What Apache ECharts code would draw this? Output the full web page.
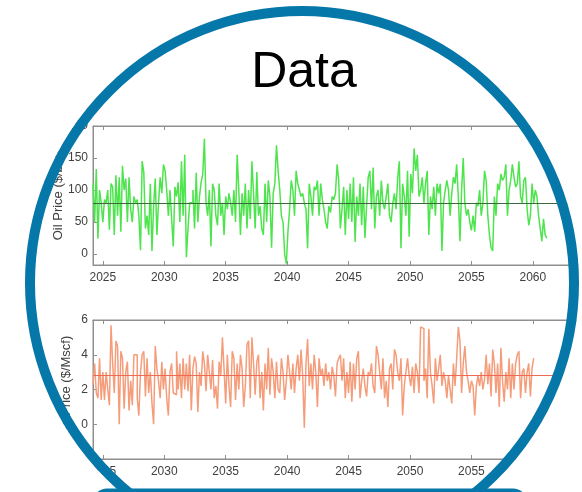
<!DOCTYPE html>
<html>
<head>
<meta charset="utf-8">
<title>Data</title>
<script src="https://cdn.jsdelivr.net/npm/echarts@6/dist/echarts.min.js"></script>
<style>
  html, body { margin: 0; padding: 0; background: #fff; }
  #chart { width: 582px; height: 492px; }
</style>
</head>
<body>
<div id="chart"></div>
<script>
// tick positions
const yearTicks = [2025, 2030, 2035, 2040, 2045, 2050, 2055, 2060];
const oilTicks = [0, 50, 100, 150, 200];
const gasTicks = [0, 2, 4, 6];

// sampling of the price paths (points per year, first point)
const startYear = 2024.2;
const perYear = 7.5;

const oilMean = 80;
const gasMean = 2.8;

// oil price, $/bbl
const oilPrice = [
  110, 50, 133, 24, 100, 80, 50, 85, 80, 100,
  38, 110, 105, 30, 123, 60, 120, 35, 138, 100,
  118, 50, 120, 70, 50, 90, 80, 85, 60, 6,
  145, 128, 40, 60, 30, 110, 5, 75, 118, 30,
  80, 120, 95, 140, 130, 100, 60, 100, 55, 12,
  105, 90, 112, 50, 145, 60, 155, -5, 40, 80,
  80, 100, 40, 127, 50, 90, 112, 125, 180, 80,
  60, 100, 12, 110, 100, 60, 45, 110, 60, 80,
  30, 90, 70, 95, 80, 60, 100, 50, 155, 100,
  30, 95, 60, 110, 40, 100, 55, 145, 95, 40,
  128, 60, 75, 40, 30, 110, 50, 115, 90, 10,
  95, 110, 170, 130, 100, 60, 50, 0, -15, 35,
  70, 115, 100, 60, 130, 110, 100, 90, 95, 80,
  70, 9, 110, 90, 60, 105, 100, 115, 60, 110,
  85, 70, 50, 40, 75, 65, 90, 85, 95, 140,
  115, 40, 70, 105, 30, 100, 55, 110, 50, 120,
  19, 90, 60, 110, 45, 105, 25, 75, 120, 130,
  70, 135, 40, 90, 100, 60, 115, 80, 70, 90,
  110, 60, 50, 80, 95, 70, 120, 145, 9, 110,
  90, 60, 130, 27, 125, 95, 165, 130, 155, 90,
  100, 120, 80, 110, 130, 30, 90, 70, 105, 60,
  110, 95, 110, 5, 80, 100, 115, 100, 60, 95,
  120, 110, 140, 90, 20, 100, 150, 80, 60, 70,
  50, 37, 60, 35, 80, 75, 100, 60, 80, 130,
  115, 60, 30, 10, 5, 90, 60, 110, 100, 125,
  115, 120, 140, 60, 100, 115, 140, 120, 105, 110,
  145, 90, 80, 115, 120, 70, 45, 60, 110, 80,
  100, 90, 60, 40, 20, 55, 30, 25
];

// gas price, $/Mscf
const gasPrice = [
  2.3, 3.5, 1.8, 1.5, 3.8, 1.4, 3.0, 1.4,
  3.0, 2.0, 1.1, 5.7, 3.5, 1.8, 4.8, 4.5,
  0.0, 4.2, 3.8, 0.9, 3.0, 3.6, 0.8, 2.5,
  1.1, 4.0, 4.0, 1.5, 0.5, 3.0, 4.0, 4.2,
  1.6, 3.8, 1.8, 3.0, 1.2, 0.0, 4.5, 3.2,
  2.5, 1.5, 3.6, 2.0, 3.2, 1.5, 0.5, 3.0,
  3.5, 1.8, 1.7, 4.2, 2.0, 3.5, 1.5, 3.8,
  2.0, 3.5, 1.9, 4.0, 0.8, 3.2, 3.9, 3.5,
  0.7, 3.0, 2.2, 4.2, 3.5, 1.9, 4.0, 3.0,
  2.0, 3.7, 1.5, 2.2, 0.9, 3.6, 2.8, 5.0,
  3.2, 1.2, 4.0, 2.2, 1.0, 4.2, 3.8, 1.4,
  3.5, 2.0, 4.0, 3.2, 1.0, 2.2, 4.6, 4.8,
  1.5, 5.0, 3.5, 1.7, 3.6, 4.0, 1.5, 3.0,
  0.8, 3.5, 2.0, 4.4, 1.7, 3.8, 3.0, 1.5,
  3.6, 2.0, 1.8, 3.8, 3.0, 1.4, 2.5, 4.0,
  3.0, 2.0, 3.5, 1.8, 3.2, 4.0, 2.5, 4.3, 2.8, -0.2,
  3.5, 4.9, 2.2, 3.5, 2.0, 4.0, 3.0, 1.0, 3.8, 2.8,
  3.2, 2.2, 3.5, 2.5, 3.0, 2.0, 3.3, 2.8, 1.6, 3.5,
  3.8, 4.0, 2.5, 3.8, 1.5, 3.0, 1.8, 3.6, 1.3, 3.5,
  2.0, 3.8, 4.2, 1.5, 2.5, 3.2, 2.2, 1.6, 3.0, 2.8,
  3.5, 2.2, 1.8, 4.5, 4.0, 3.0, 2.0, 3.8, 1.5, 2.5,
  1.0, 3.2, 3.5, 2.0, 4.3, 4.0, 3.0, 2.5, 3.8, 0.5,
  2.2, 3.0, 3.8, 2.8, 2.2, 3.3, 1.8, 3.5, 3.0, 1.8,
  5.6, 5.5, 2.5, 3.2, 1.5, 5.5, 3.0, 2.2, 1.2, 3.8,
  2.5, 3.2, 4.0, 2.2, 3.0, 2.5, 1.5, 2.8, 2.0, 1.2,
  3.5, 2.2, 3.8, 5.6, 4.8, 1.8, 3.5, 4.5, 3.0, 2.5,
  1.8, 2.5, 2.2, 0.5, 2.2, 2.8, 2.2, 3.0, 2.0, 2.6,
  4.0, 2.3, 3.5, 1.6, 4.3, 3.5, 1.8, 3.5, 1.0, 4.4,
  2.5, 1.3, 3.0, 2.0, 3.8, 1.5, 3.5, 2.0, 3.5, 4.0,
  4.2, 1.5, 3.0, 3.2, 1.8, 3.0, 3.5, 1.6, 3.2, 3.8
];

const toPoints = (vals) => vals.map((v, i) => [startYear + i / perYear, v]);

const font = "'Liberation Sans', Arial, sans-serif";
const boxColor = '#8f8f8f';
const labelColor = '#404040';
const ringBlue = '#0577a8';

const xAxisFor = (gridIndex, position) => ({
  type: 'value',
  gridIndex: gridIndex,
  position: position,
  min: startYear,
  max: 2064,
  axisLine: { show: true, onZero: false, lineStyle: { color: boxColor } },
  axisTick: { show: true, inside: true, length: 4, customValues: yearTicks, lineStyle: { color: boxColor } },
  axisLabel: {
    show: position === 'bottom',
    customValues: yearTicks,
    formatter: (v) => String(v),
    color: labelColor,
    fontFamily: font,
    fontSize: 12,
    margin: 7
  },
  splitLine: { show: false }
});

// the name sits just left of the tick labels, so its gap follows their width
const yAxisFor = (gridIndex, name, min, max, ticks, gap) => ({
  type: 'value',
  gridIndex: gridIndex,
  min: min,
  max: max,
  name: name,
  nameLocation: 'middle',
  nameGap: gap,
  nameMoveOverlap: false,
  nameTextStyle: { color: labelColor, fontFamily: font, fontSize: 13 },
  axisLine: { show: true, onZero: false, lineStyle: { color: boxColor } },
  axisTick: { show: true, inside: true, length: 4, customValues: ticks, lineStyle: { color: boxColor } },
  axisLabel: { customValues: ticks, color: labelColor, fontFamily: font, fontSize: 12, margin: 5 },
  splitLine: { show: false }
});

const meanLine = (value, color) => ({
  symbol: 'none',
  silent: true,
  label: { show: false },
  lineStyle: { color: color, width: 1, type: 'solid' },
  data: [{ yAxis: value }]
});

const chart = echarts.init(document.getElementById('chart'));
chart.setOption({
  animation: false,
  backgroundColor: '#fff',
  grid: [
    { left: 93, top: 126, width: 505, height: 139, show: true, borderColor: boxColor, borderWidth: 1 },
    { left: 93, top: 320, width: 505, height: 139, show: true, borderColor: boxColor, borderWidth: 1 }
  ],
  xAxis: [
    xAxisFor(0, 'bottom'),
    xAxisFor(0, 'top'),
    xAxisFor(1, 'bottom'),
    xAxisFor(1, 'top')
  ],
  yAxis: [
    yAxisFor(0, 'Oil Price ($/bbl)', -17, 200, oilTicks, 28),
    yAxisFor(1, 'Gas Price ($/Mscf)', -2, 6, gasTicks, 20)
  ],
  series: [
    {
      type: 'line',
      xAxisIndex: 0,
      yAxisIndex: 0,
      data: toPoints(oilPrice),
      step: 'end',
      showSymbol: false,
      lineStyle: { color: '#4ee44e', width: 1.5 },
      markLine: meanLine(oilMean, '#3d6a3d')
    },
    {
      type: 'line',
      xAxisIndex: 2,
      yAxisIndex: 1,
      data: toPoints(gasPrice),
      step: 'end',
      showSymbol: false,
      lineStyle: { color: '#f59d7b', width: 1.5 },
      markLine: meanLine(gasMean, '#ee6a55')
    }
  ],
  graphic: [
    // white out everything outside the circle
    {
      type: 'circle',
      z: 100,
      silent: true,
      shape: { cx: 302, cy: 283, r: 877 },
      style: { fill: 'none', stroke: '#fff', lineWidth: 1200 }
    },
    {
      type: 'circle',
      z: 101,
      silent: true,
      shape: { cx: 302, cy: 283, r: 272 },
      style: { fill: 'none', stroke: ringBlue, lineWidth: 10 }
    },
    {
      type: 'rect',
      z: 102,
      silent: true,
      shape: { x: 95, y: 491, width: 430, height: 60, r: 12 },
      style: { fill: '#fff', stroke: ringBlue, lineWidth: 5 }
    },
    {
      type: 'text',
      z: 103,
      silent: true,
      style: {
        text: 'Data',
        x: 304,
        y: 73,
        align: 'center',
        verticalAlign: 'middle',
        fill: '#000',
        font: "50px 'Liberation Sans', Arial, sans-serif"
      }
    }
  ]
});
</script>
</body>
</html>
